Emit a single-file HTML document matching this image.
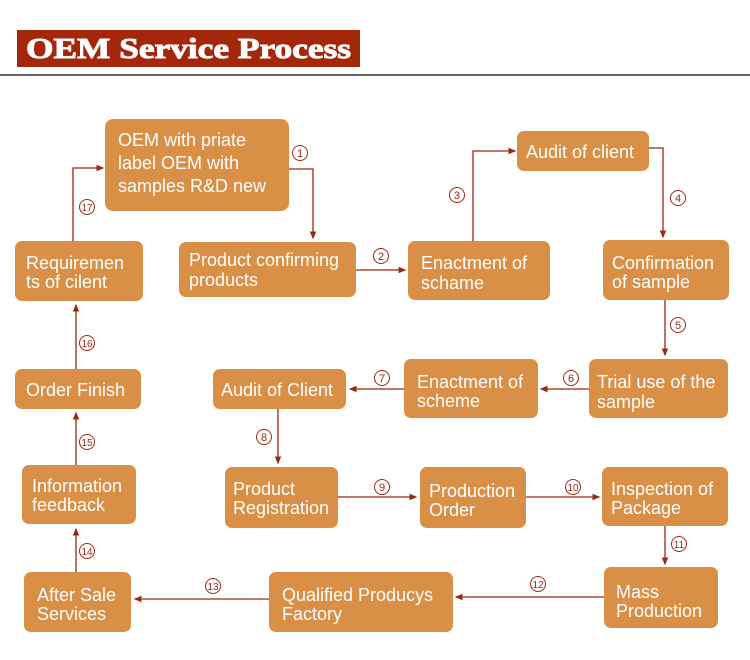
<!DOCTYPE html>
<html><head><meta charset="utf-8"><style>
body{margin:0;width:750px;height:660px;background:#fff;overflow:hidden;font-family:"Liberation Sans",sans-serif}
svg{position:absolute;left:0;top:0}
</style></head><body>
<svg width="750" height="660" viewBox="0 0 750 660" xmlns="http://www.w3.org/2000/svg">
<defs><marker id="a" markerWidth="6" markerHeight="6" refX="5" refY="3" orient="auto"><path d="M0,0.5 L6,3 L0,5.5z" fill="#9b2a10"/></marker></defs>
<rect x="17" y="30" width="343" height="37" fill="#a4270c"/>
<text x="26" y="58" textLength="325" lengthAdjust="spacingAndGlyphs" font-family="Liberation Serif" font-weight="bold" font-size="29" fill="#fff" stroke="#fff" stroke-width="0.9">OEM Service Process</text>
<rect x="0" y="74" width="750" height="2" fill="#666"/>
<g fill="#d98f45">
<rect x="105" y="119" width="184" height="92" rx="8"/>
<rect x="179" y="242" width="177" height="55" rx="7"/>
<rect x="408" y="241" width="142" height="59" rx="7"/>
<rect x="517" y="131" width="132" height="40" rx="7"/>
<rect x="603" y="240" width="126" height="60" rx="7"/>
<rect x="589" y="359" width="139" height="59" rx="7"/>
<rect x="404" y="359" width="134" height="59" rx="7"/>
<rect x="213" y="369" width="133" height="40" rx="7"/>
<rect x="225" y="467" width="113" height="61" rx="7"/>
<rect x="420" y="467" width="106" height="61" rx="7"/>
<rect x="602" y="467" width="126" height="59" rx="7"/>
<rect x="604" y="567" width="114" height="61" rx="7"/>
<rect x="269" y="572" width="184" height="60" rx="7"/>
<rect x="24" y="572" width="107" height="60" rx="7"/>
<rect x="22" y="465" width="114" height="59" rx="7"/>
<rect x="15" y="369" width="126" height="40" rx="7"/>
<rect x="15" y="241" width="128" height="60" rx="7"/>
</g>
<g fill="#fff" font-size="18">
<text x="118" y="146">OEM with priate</text><text x="118" y="169">label OEM with</text><text x="118" y="192">samples R&amp;D new</text>
<text x="189" y="266">Product confirming</text><text x="189" y="286">products</text>
<text x="421" y="269">Enactment of</text><text x="421" y="289">schame</text>
<text x="526" y="158">Audit of client</text>
<text x="612" y="269">Confirmation</text><text x="612" y="288">of sample</text>
<text x="597" y="388">Trial use of the</text><text x="597" y="408">sample</text>
<text x="417" y="388">Enactment of</text><text x="417" y="407">scheme</text>
<text x="221" y="396">Audit of Client</text>
<text x="233" y="495">Product</text><text x="233" y="514">Registration</text>
<text x="429" y="497">Production</text><text x="429" y="516">Order</text>
<text x="611" y="495">Inspection of</text><text x="611" y="514">Package</text>
<text x="616" y="598">Mass</text><text x="616" y="617">Production</text>
<text x="282" y="601">Qualified Producys</text><text x="282" y="620">Factory</text>
<text x="37" y="601">After Sale</text><text x="37" y="620">Services</text>
<text x="32" y="492">Information</text><text x="32" y="511">feedback</text>
<text x="26" y="396">Order Finish</text>
<text x="26" y="269">Requiremen</text><text x="26" y="288">ts of cilent</text>
</g>
<g stroke="#9b2a10" stroke-width="1.3" fill="none" marker-end="url(#a)">
<path d="M289,169 H313 V238"/>
<path d="M356,270 H405"/>
<path d="M473,241 V151 H515"/>
<path d="M649,148 H663 V237"/>
<path d="M665,300 V355"/>
<path d="M589,389 H541"/>
<path d="M404,389 H350"/>
<path d="M278,409 V463"/>
<path d="M338,497 H416"/>
<path d="M526,497 H599"/>
<path d="M665,526 V564"/>
<path d="M604,597 H456"/>
<path d="M269,599 H135"/>
<path d="M76,572 V529"/>
<path d="M76,465 V413"/>
<path d="M76,369 V305"/>
<path d="M73,241 V168 H103"/>
</g>
<g stroke="#9b2a10" stroke-width="1" fill="none">
<circle cx="300" cy="153" r="7.5"/><circle cx="381" cy="256" r="7.5"/><circle cx="457" cy="195" r="7.5"/><circle cx="678" cy="198" r="7.5"/>
<circle cx="678" cy="325" r="7.5"/><circle cx="571" cy="378" r="7.5"/><circle cx="382" cy="378" r="7.5"/><circle cx="264" cy="437" r="7.5"/>
<circle cx="382" cy="487" r="7.5"/><circle cx="573" cy="487" r="7.5"/><circle cx="679" cy="544" r="7.5"/><circle cx="538" cy="584" r="7.5"/>
<circle cx="213" cy="586" r="7.5"/><circle cx="87" cy="551" r="7.5"/><circle cx="87" cy="442" r="7.5"/><circle cx="87" cy="343" r="7.5"/><circle cx="87" cy="207" r="7.5"/>
</g>
<g font-size="11" fill="#9b2a10" text-anchor="middle">
<text x="300" y="157">1</text><text x="381" y="260">2</text><text x="457" y="199">3</text><text x="678" y="202">4</text>
<text x="678" y="329">5</text><text x="571" y="382">6</text><text x="382" y="382">7</text><text x="264" y="441">8</text>
<text x="382" y="491">9</text><text x="573" y="491" font-size="10">10</text><text x="679" y="548" font-size="10">11</text><text x="538" y="588" font-size="10">12</text>
<text x="213" y="590" font-size="10">13</text><text x="87" y="555" font-size="10">14</text><text x="87" y="446" font-size="10">15</text><text x="87" y="347" font-size="10">16</text><text x="87" y="211" font-size="10">17</text>
</g>
</svg>
</body></html>
